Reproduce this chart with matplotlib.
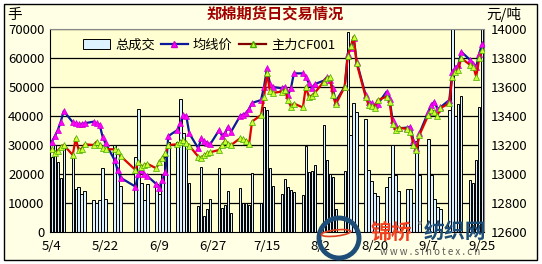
import numpy as np
import pandas as pd
import matplotlib
matplotlib.use("Agg")
import matplotlib.pyplot as plt
import matplotlib.patches as patches
from matplotlib.lines import Line2D

plt.rcParams['font.family'] = ['Noto Sans CJK SC', 'DejaVu Sans']

W, H = 542, 264

# trading days 2009-05-04 .. 2009-09-25 (Dragon Boat holiday closed)
days = pd.bdate_range('2009-05-04', '2009-09-25')
days = days.drop(pd.to_datetime(['2009-05-28', '2009-05-29']))

# total volume (lots)
volume = [26000, 30000, 24000, 18500, 30000,
          27000, 15000, 15400, 13000, 14300,
          11000, 10000, 11000, 22000, 11500,
          30000, 27000, 16000,
          26000, 42500, 17000, 11000, 16500,
          16500, 13000, 19500, 26000, 31000,
          31000, 46000, 34000, 30000, 17000,
          9000, 22500, 5500, 8000, 11500,
          22000, 8300, 9300, 14000, 6500,
          15300, 10000, 10000, 9300, 20300,
          10000, 43000, 42000, 22000, 16000,
          13000, 18400, 15500, 14400, 13800,
          12800, 29500, 20800, 21000, 23000,
          37000, 25000, 20000, 19000, 8000,
          21000, 69000, 33500, 44500, 41500,
          39000, 21500, 17500, 13500, 12500,
          15600, 19000, 30000, 19700, 14000,
          15000, 15000, 10000, 31500, 19700,
          32000, 19500, 11500, 8700, 8000,
          42000, 72000, 40000, 44000, 47000,
          18000, 17000, 25000, 43000, 72000]

# average price (yuan/ton)
avg_price = [13223, 13260, 13303, 13361, 13434,
             13357, 13350, 13345, 13345, 13350,
             13361, 13350, 13340, 13257, 13211,
             13097, 13030, 12974,
             12913, 13000, 13030, 13000, 12985,
             12930, 12902, 12960, 13016, 13262,
             13303, 13350, 13407, 13400, 13280,
             13177, 13246, 13225, 13215, 13205,
             13303, 13262, 13285, 13326, 13292,
             13400, 13410, 13420, 13450, 13490,
             13510, 13602, 13729, 13620, 13600,
             13591, 13602, 13545, 13591, 13694,
             13694, 13671, 13625, 13590, 13620,
             13644, 13667, 13650, 13591, 13500,
             13602, 13830, 13870, 13940, 13775,
             13545, 13499, 13490, 13476, 13480,
             13568, 13520, 13372, 13331, 13315,
             13320, 13326, 13230, 13180, 13280,
             13430, 13476, 13499, 13450, 13460,
             13510, 13705, 13729, 13752, 13843,
             13786, 13760, 13740, 13830, 13900]

# main contract CF001
main_price = [13172, 13143, 13160, 13185, 13200,
              13131, 13246, 13166, 13175, 13205,
              13200, 13223, 13200, 13180, 13172,
              13170, 13160, 13124,
              13028, 13085, 13050, 13062, 13070,
              13039, 13085, 13108, 13143, 13200,
              13205, 13220, 13234, 13215, 13195,
              13120, 13110, 13130, 13143, 13150,
              13166, 13200, 13230, 13210, 13200,
              13246, 13240, 13230, 13207, 13361,
              13407, 13530, 13694, 13570, 13560,
              13568, 13580, 13510, 13464, 13486,
              13459, 13602, 13533, 13540, 13560,
              13637, 13660, 13670, 13545, 13480,
              13602, 13811, 13880, 13947, 13763,
              13533, 13476, 13470, 13458, 13510,
              13533, 13500, 13345, 13303, 13320,
              13310, 13292, 13200, 13166, 13269,
              13407, 13440, 13430, 13400, 13454,
              13488, 13671, 13705, 13720, 13798,
              13752, 13740, 13671, 13798, 13855]

tick_labels = ['5/4', '5/22', '6/9', '6/27', '7/15', '8/2', '8/20', '9/7', '9/25']
vol_ticks = [0, 10000, 20000, 30000, 40000, 50000, 60000, 70000]
price_ticks = [12600, 12800, 13000, 13200, 13400, 13600, 13800, 14000]

x = np.array([(d - days[0]).days for d in days])

fig = plt.figure(figsize=(W / 100, H / 100), dpi=100)
fig.patch.set_facecolor('white')
fig.patches.append(patches.Rectangle((4 / W, 1 - 260 / H), 533 / W, 256 / H,
                                     transform=fig.transFigure, facecolor='#FFFFE6',
                                     edgecolor='black', lw=1, zorder=-5))

ax = fig.add_axes([50 / W, 1 - 232 / H, 434 / W, 203 / H])
ax.set_facecolor('#FFFFD2')
ax.bar(x, volume, width=0.8, color='#DDF3FF', edgecolor='black', linewidth=0.7, zorder=2)
ax.set_ylim(0, 70000)
ax.set_xlim(-0.6, 144.6)
ax.set_yticks(vol_ticks)
ax.set_yticklabels([str(v) for v in vol_ticks])
ax.set_xticks(np.arange(0, 145, 18))
ax.set_xticklabels(tick_labels)
for v in vol_ticks[1:]:
    ax.axhline(v, color='black', lw=0.9, zorder=1)
ax.tick_params(axis='both', length=0, labelsize=9.5, colors='black')
ax.tick_params(axis='y', pad=4)
ax.tick_params(axis='x', pad=6)
ax.spines['top'].set_color('#888888')
ax.spines['right'].set_color('#888888')

ax2 = ax.twinx()
ax2.set_ylim(12600, 14000)
ax2.set_yticks(price_ticks)
ax2.set_yticklabels([str(v) for v in price_ticks])
ax2.tick_params(axis='y', length=0, labelsize=9.5, pad=5)
for s in ax2.spines.values():
    s.set_visible(False)

ax2.plot(x, avg_price, color='#0A1A9A', lw=1.6, marker='^', markersize=4.5,
         markerfacecolor='#FF00FF', markeredgecolor='#CC00CC', markeredgewidth=0.5, zorder=3)
ax2.plot(x, main_price, color='#E00000', lw=1.6, marker='^', markersize=4.5,
         markerfacecolor='#CCFF33', markeredgecolor='#44AA00', markeredgewidth=0.5, zorder=4)

fig.text(275 / W, 1 - 14 / H, '郑棉期货日交易情况', color='#A00000', fontsize=11,
         fontweight='bold', ha='center', va='center')
fig.text(7 / W, 1 - 15 / H, '手', fontsize=10.5, ha='left', va='center')
fig.text(486 / W, 1 - 15 / H, '元/吨', fontsize=10.5, ha='left', va='center')

handles = [patches.Patch(facecolor='#DDF3FF', edgecolor='black', lw=0.7),
           Line2D([], [], color='#0A1A9A', lw=1.6, marker='^', markersize=4.5,
                  markerfacecolor='#FF00FF', markeredgecolor='#CC00CC'),
           Line2D([], [], color='#800000', lw=1.6, marker='^', markersize=4.5,
                  markerfacecolor='#CCFF33', markeredgecolor='#44AA00')]
fig.legend(handles, ['总成交', '均线价', '主力CF001'], loc='center left',
           bbox_to_anchor=(78 / W, 1 - 45 / H), ncol=3, frameon=False, fontsize=9.5,
           handlelength=2.0, handletextpad=0.4, columnspacing=0.5, borderaxespad=0)

# watermark
fig.patches.append(patches.Ellipse((339 / W, 1 - 238 / H), 40 / W, 40 / H,
                                   transform=fig.transFigure, facecolor='none',
                                   edgecolor='#1E4E78', lw=3.5, zorder=5))
fig.patches.append(patches.Ellipse((336 / W, 1 - 233 / H), 30 / W, 6 / H, angle=15,
                                   transform=fig.transFigure, facecolor='none',
                                   edgecolor='#E04020', lw=1.2, zorder=5))
fig.text(371 / W, 1 - 232 / H, '锦桥', color='#F04020', fontsize=15, fontweight='heavy',
         ha='left', va='center', zorder=6)
fig.text(418 / W, 1 - 226 / H, '®', color='#888888', fontsize=6, ha='left', va='center', zorder=6)
fig.text(424 / W, 1 - 232 / H, '纺织网', color='#1E4E78', fontsize=15, fontweight='heavy',
         ha='left', va='center', zorder=6)
fig.text(430 / W, 1 - 252 / H, 'w w w . s i n o t e x . c n', color='#333333', fontsize=7,
         ha='center', va='center', zorder=6, alpha=0.8)

fig.savefig('out.png', dpi=100)
